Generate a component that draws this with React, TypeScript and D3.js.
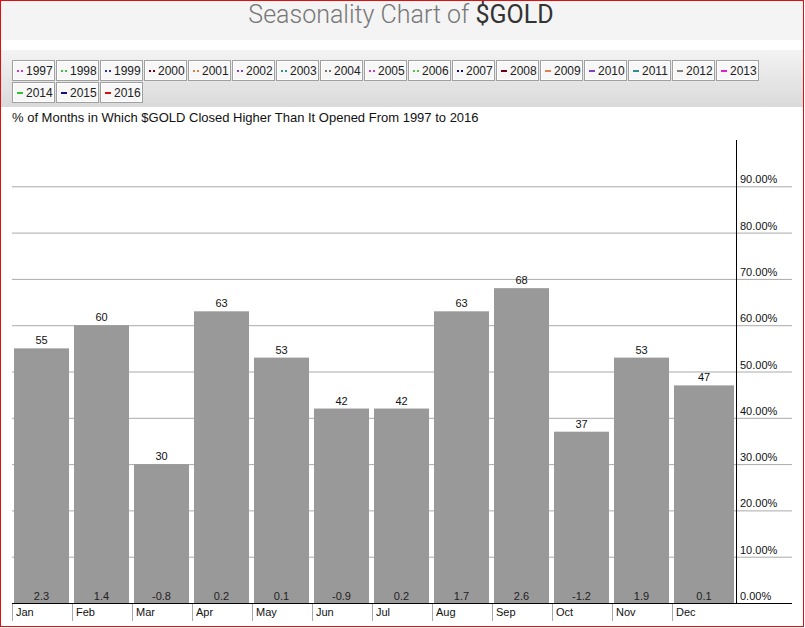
import React from 'react';
import * as d3 from 'd3';

const months = ['Jan', 'Feb', 'Mar', 'Apr', 'May', 'Jun', 'Jul', 'Aug', 'Sep', 'Oct', 'Nov', 'Dec'];
const pctHigher = [55, 60, 30, 63, 53, 42, 42, 63, 68, 37, 53, 47];
const avgChange = ['2.3', '1.4', '-0.8', '0.2', '0.1', '-0.9', '0.2', '1.7', '2.6', '-1.2', '1.9', '0.1'];
const yTicks = [0, 10, 20, 30, 40, 50, 60, 70, 80, 90];
const years = [
  '1997', '1998', '1999', '2000', '2001', '2002', '2003', '2004', '2005', '2006',
  '2007', '2008', '2009', '2010', '2011', '2012', '2013', '2014', '2015', '2016',
];
const yearColors = [
  '#c040c0', '#40c040', '#303090', '#700010', '#d08040', '#8040c0', '#309090', '#707070', '#c040c0', '#50c050',
  '#101070', '#700018', '#e08050', '#8040c0', '#309090', '#808080', '#e020d0', '#30c030', '#101080', '#d01010',
];
const dottedYears = 11; // first 11 years drawn with dotted markers

const W = 805;
const H = 628;
const font = '"Liberation Sans", Arial, sans-serif';

const App: React.FC = () => {
  const x = d3.scaleBand<string>()
    .domain(months)
    .range([12, 731])
    .paddingInner(5 / 60)
    .paddingOuter(1 / 30);

  const y = d3.scaleLinear().domain([0, 100]).range([603, 140]);
  const axisX = 736;

  const legendX = (i: number) => 12 + (i < 17 ? i : i - 17) * 44;
  const legendY = (i: number) => (i < 17 ? 60 : 82);

  return (
    <div style={{ position: 'absolute', left: 0, top: 0 }}>
      <svg width={W} height={H} style={{ display: 'block', background: '#fff' }}>
        <defs>
          <linearGradient id="lg" x1="0" y1="0" x2="0" y2="1">
            <stop offset="0" stopColor="#f3f3f3" />
            <stop offset="1" stopColor="#dadada" />
          </linearGradient>
        </defs>

        {/* title band */}
        <rect x={1} y={1} width={802} height={39} fill="#f4f4f4" />
        <text x={401} y={23} textAnchor="middle" fontFamily="Roboto, sans-serif" fontWeight={300} fontSize={25} fill="#777">
          Seasonality Chart of <tspan fill="#333" fontWeight={400}>$GOLD</tspan>
        </text>

        {/* legend band */}
        <rect x={1} y={50} width={802} height={57} fill="url(#lg)" />
        {years.map((yr, i) => {
          const bx = legendX(i);
          const by = legendY(i);
          const c = yearColors[i];
          return (
            <g key={yr} transform={`translate(${bx},${by})`}>
              <rect x={0.5} y={0.5} width={42} height={20} fill="#f7f7f7" stroke="#a0a0a0" />
              <rect x={1.5} y={1.5} width={40} height={18} fill="none" stroke="#fff" />
              {i < dottedYears ? (
                <g fill={c}>
                  <rect x={5} y={10} width={2} height={2} />
                  <rect x={9} y={10} width={2} height={2} />
                </g>
              ) : (
                <rect x={5} y={10} width={6} height={2} fill={c} />
              )}
              <text x={14} y={15} fontFamily={font} fontSize={12} fill="#222">{yr}</text>
            </g>
          );
        })}

        <text x={12} y={122} fontFamily={font} fontSize={13} fill="#111">
          % of Months in Which $GOLD Closed Higher Than It Opened From 1997 to 2016
        </text>

        {/* grid */}
        {yTicks.filter(t => t > 0).map(t => (
          <line key={t} x1={12} x2={792} y1={y(t) + 0.5} y2={y(t) + 0.5} stroke="#aaa" />
        ))}

        {/* bars */}
        {months.map((m, i) => {
          const bx = x(m) as number;
          // last bar runs up to the value axis
          const bw = i === months.length - 1 ? axisX - 2 - bx : x.bandwidth();
          return (
            <g key={m}>
              <rect x={bx} y={y(pctHigher[i])} width={bw} height={y(0) - y(pctHigher[i])} fill="#999" />
              <text x={bx + bw / 2} y={y(pctHigher[i]) - 4} textAnchor="middle" fontFamily={font} fontSize={11} fill="#111">
                {pctHigher[i]}
              </text>
              <text x={bx + bw / 2} y={600} textAnchor="middle" fontFamily={font} fontSize={11} fill="#222">
                {avgChange[i]}
              </text>
              <line x1={bx - 1.5} x2={bx - 1.5} y1={603} y2={621} stroke="#aaa" />
              <text x={bx + 2} y={616} fontFamily={font} fontSize={11} fill="#111">{m}</text>
            </g>
          );
        })}

        {/* axes */}
        <line x1={12} x2={792} y1={603.5} y2={603.5} stroke="#000" />
        <line x1={axisX + 0.5} x2={axisX + 0.5} y1={140} y2={603} stroke="#000" />
        {yTicks.map(t => (
          <text key={t} x={740} y={y(t) - 3} fontFamily={font} fontSize={11} fill="#111">
            {`${d3.format('.2f')(t)}%`}
          </text>
        ))}

        {/* outer border */}
        <rect x={0.5} y={0.5} width={803} height={626} fill="none" stroke="#e01010" />
      </svg>
    </div>
  );
};

export default App;
